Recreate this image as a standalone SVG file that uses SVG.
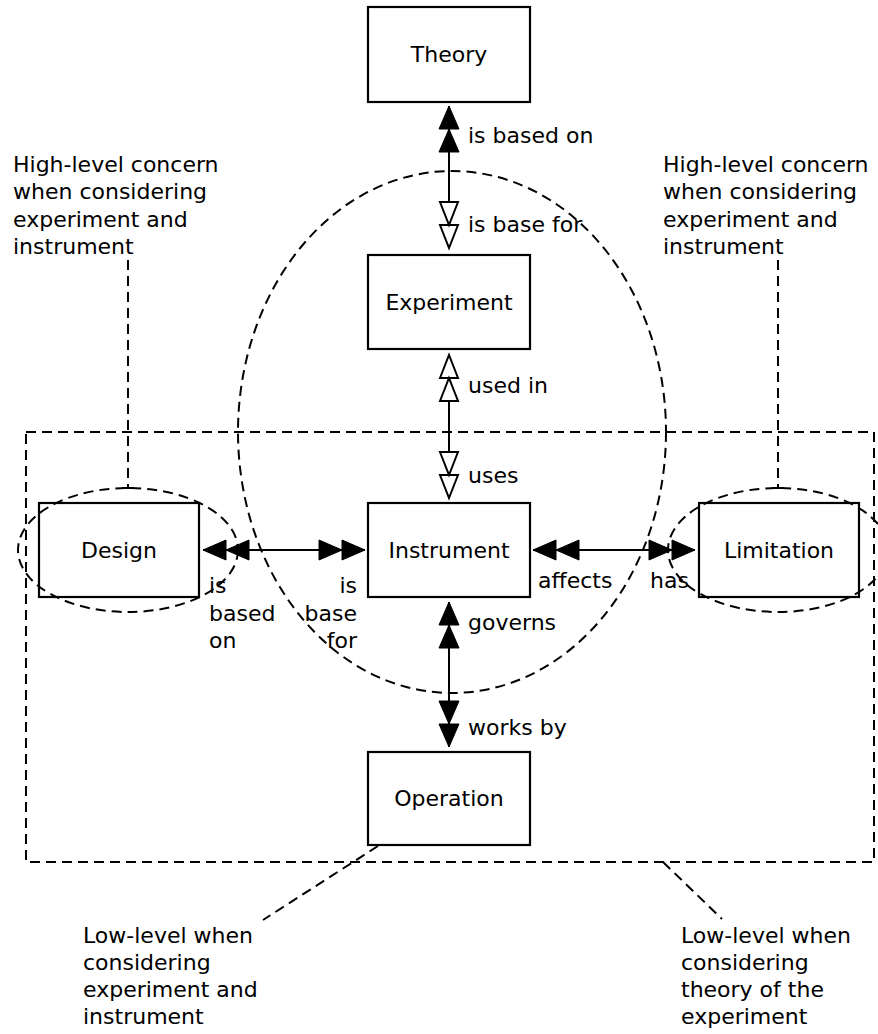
<svg xmlns="http://www.w3.org/2000/svg" width="878" height="1034" viewBox="0 0 878 1034">
  <style>
    text { font-family: "DejaVu Sans", "Open Sans", sans-serif; font-size: 22px; fill: #000; }
    .mid { text-anchor: middle; }
    .end { text-anchor: end; }
    .box { fill: #fff; stroke: #000; stroke-width: 2.2; }
    .dash { fill: none; stroke: #000; stroke-width: 2; stroke-dasharray: 10 6; }
    .link { fill: none; stroke: #000; stroke-width: 2; }
  </style>
  <defs>
    <!-- two stacked solid heads -->
    <marker id="dblSolid" viewBox="0 0 48 22" refX="47" refY="11" markerWidth="48" markerHeight="22" markerUnits="userSpaceOnUse" orient="auto-start-reverse" overflow="visible">
      <path d="M1,1 L24,11 L1,21 Z M24,1 L47,11 L24,21 Z" fill="#000" stroke="#000" stroke-width="1"/>
    </marker>
    <!-- two stacked open heads -->
    <marker id="dblOpen" viewBox="0 0 48 22" refX="47" refY="11" markerWidth="48" markerHeight="22" markerUnits="userSpaceOnUse" orient="auto-start-reverse" overflow="visible">
      <path d="M1,2 L24,11 L1,20 Z M24,2 L47,11 L24,20 Z" fill="#fff" stroke="#000" stroke-width="2" stroke-linejoin="miter"/>
    </marker>
  </defs>

  <rect width="878" height="1034" fill="#fff"/>

  <!-- grouping regions -->
  <g id="regions">
    <rect class="dash" x="26" y="432" width="848" height="430"/>
    <ellipse class="dash" cx="452" cy="432" rx="214" ry="261"/>
  </g>

  <!-- connectors -->
  <g id="connectors">
    <line class="link" x1="449" y1="106" x2="449" y2="248" marker-start="url(#dblSolid)" marker-end="url(#dblOpen)"/>
    <line class="link" x1="449" y1="355" x2="449" y2="498" marker-start="url(#dblOpen)" marker-end="url(#dblOpen)"/>
    <line class="link" x1="449" y1="602" x2="449" y2="747" marker-start="url(#dblSolid)" marker-end="url(#dblSolid)"/>
    <line class="link" x1="203" y1="550" x2="365" y2="550" marker-start="url(#dblSolid)" marker-end="url(#dblSolid)"/>
    <line class="link" x1="533" y1="550" x2="695" y2="550" marker-start="url(#dblSolid)" marker-end="url(#dblSolid)"/>

    <text x="468" y="143">is based on</text>
    <text x="468" y="232">is base for</text>
    <text x="468" y="393">used in</text>
    <text x="468" y="483">uses</text>
    <text x="468" y="630">governs</text>
    <text x="468" y="735">works by</text>
    <text x="538" y="588">affects</text>
    <text x="650" y="588">has</text>
    <text x="209" y="593">is<tspan x="209" dy="27.5">based</tspan><tspan x="209" dy="27.5">on</tspan></text>
    <text class="end" x="357" y="593">is<tspan x="357" dy="27.5">base</tspan><tspan x="357" dy="27.5">for</tspan></text>
  </g>

  <!-- nodes -->
  <g id="theory">
    <rect class="box" x="368" y="7" width="162" height="95"/>
    <text class="mid" x="449" y="62">Theory</text>
  </g>
  <g id="experiment">
    <rect class="box" x="368" y="255" width="162" height="94"/>
    <text class="mid" x="449" y="310">Experiment</text>
  </g>
  <g id="instrument">
    <rect class="box" x="368" y="503" width="162" height="94"/>
    <text class="mid" x="449" y="558">Instrument</text>
  </g>
  <g id="operation">
    <rect class="box" x="368" y="752" width="162" height="93"/>
    <text class="mid" x="449" y="806">Operation</text>
  </g>
  <g id="design">
    <rect class="box" x="39" y="503" width="160" height="94"/>
    <text class="mid" x="119" y="558">Design</text>
  </g>
  <g id="limitation">
    <rect class="box" x="699" y="503" width="160" height="94"/>
    <text class="mid" x="779" y="558">Limitation</text>
  </g>

  <!-- concern outlines around side nodes -->
  <g id="concern-outlines">
    <ellipse class="dash" cx="128" cy="550" rx="110" ry="62"/>
    <ellipse class="dash" cx="778" cy="550" rx="110" ry="62"/>
  </g>

  <!-- notes with leaders -->
  <g id="note-design">
    <text x="13" y="172">High-level concern<tspan x="13" dy="27.3">when considering</tspan><tspan x="13" dy="27.3">experiment and</tspan><tspan x="13" dy="27.3">instrument</tspan></text>
    <line class="dash" x1="128" y1="260" x2="128" y2="488"/>
    <line class="link" x1="122" y1="488" x2="134" y2="488"/>
  </g>
  <g id="note-limitation">
    <text x="663" y="172">High-level concern<tspan x="663" dy="27.3">when considering</tspan><tspan x="663" dy="27.3">experiment and</tspan><tspan x="663" dy="27.3">instrument</tspan></text>
    <line class="dash" x1="778" y1="260" x2="778" y2="488"/>
    <line class="link" x1="772" y1="488" x2="784" y2="488"/>
  </g>
  <g id="note-operation">
    <line class="dash" x1="378" y1="846" x2="263" y2="920"/>
    <text x="83" y="943">Low-level when<tspan x="83" dy="27">considering</tspan><tspan x="83" dy="27">experiment and</tspan><tspan x="83" dy="27">instrument</tspan></text>
  </g>
  <g id="note-region">
    <line class="dash" x1="663" y1="862" x2="722" y2="919"/>
    <text x="681" y="943">Low-level when<tspan x="681" dy="27">considering</tspan><tspan x="681" dy="27">theory of the</tspan><tspan x="681" dy="27">experiment</tspan></text>
  </g>
</svg>
